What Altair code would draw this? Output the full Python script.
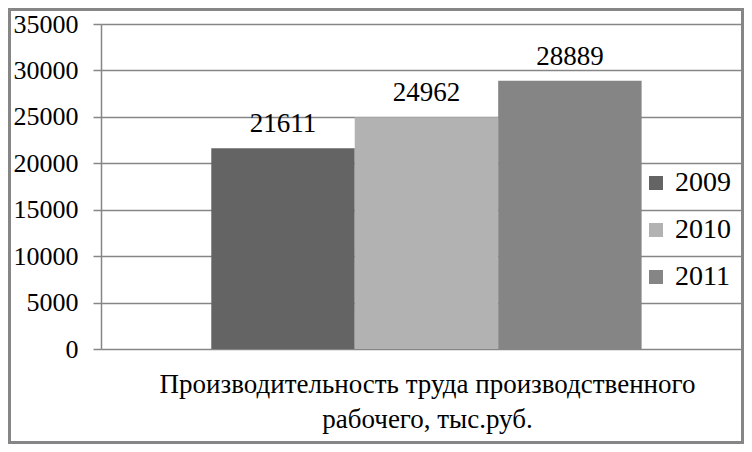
import altair as alt
import pandas as pd

category = ["Производительность труда производственного рабочего, тыс.руб."]
years = ["2009", "2010", "2011"]
values = [21611, 24962, 28889]
colors = ["#646464", "#B2B2B2", "#858585"]
y_ticks = [0, 5000, 10000, 15000, 20000, 25000, 30000, 35000]
x_title = ["Производительность труда производственного", "рабочего, тыс.руб."]

df = pd.DataFrame({"cat": category * len(years), "year": years, "value": values})

FONT = "'Times New Roman', 'Liberation Serif', serif"
GRID = "#868686"

x_enc = alt.X("cat:N", title=x_title,
              scale=alt.Scale(paddingOuter=0.2436, paddingInner=0, align=0.526),
              axis=alt.Axis(labels=False, ticks=False, domain=False,
                            titleFont=FONT, titleFontSize=27, titleFontWeight="normal",
                            titleColor="black", titleLineHeight=35, titlePadding=22,
                            titleX=326))
y_enc = alt.Y("value:Q", title=None,
              scale=alt.Scale(domain=[0, 35000], nice=False),
              axis=alt.Axis(values=y_ticks, grid=True, gridColor=GRID, gridWidth=1.5,
                            domainColor=GRID, domainWidth=1.5, tickColor=GRID, tickSize=8,
                            tickWidth=1.5, labelFont=FONT, labelFontSize=26, labelColor="black",
                            labelPadding=15, format="d"))
xo = alt.XOffset("year:N", scale=alt.Scale(paddingInner=0, paddingOuter=0))

bars = alt.Chart(df).mark_bar().encode(
    x=x_enc, y=y_enc, xOffset=xo,
    color=alt.Color("year:N", scale=alt.Scale(domain=years, range=colors),
                    legend=alt.Legend(title=None, orient="none", legendX=541, legendY=145,
                                      symbolType="square", symbolSize=196, symbolStrokeWidth=0,
                                      labelFont=FONT, labelFontSize=28, labelColor="black",
                                      labelOffset=5, rowPadding=19, padding=0)),
)

labels = alt.Chart(df).mark_text(font=FONT, fontSize=27, color="black",
                                 baseline="alphabetic", dy=-16).encode(
    x=alt.X("cat:N"), y=alt.Y("value:Q"), xOffset=xo, text=alt.Text("value:Q", format="d"))

frame = alt.Chart(df).mark_rect(fill=None, stroke=GRID, strokeWidth=3).encode(
    x=alt.value(-91.5), x2=alt.value(641.5), y=alt.value(-14.5), y2=alt.value(418.5))

chart = alt.layer(bars, labels, frame).properties(
    width=640, height=325,
    autosize=alt.AutoSizeParams(type="none"),
    padding={"left": 93, "top": 16, "right": 3, "bottom": 95},
).configure_view(stroke=None)

chart.save("out.html", embed_options={"renderer": "svg", "actions": False})
